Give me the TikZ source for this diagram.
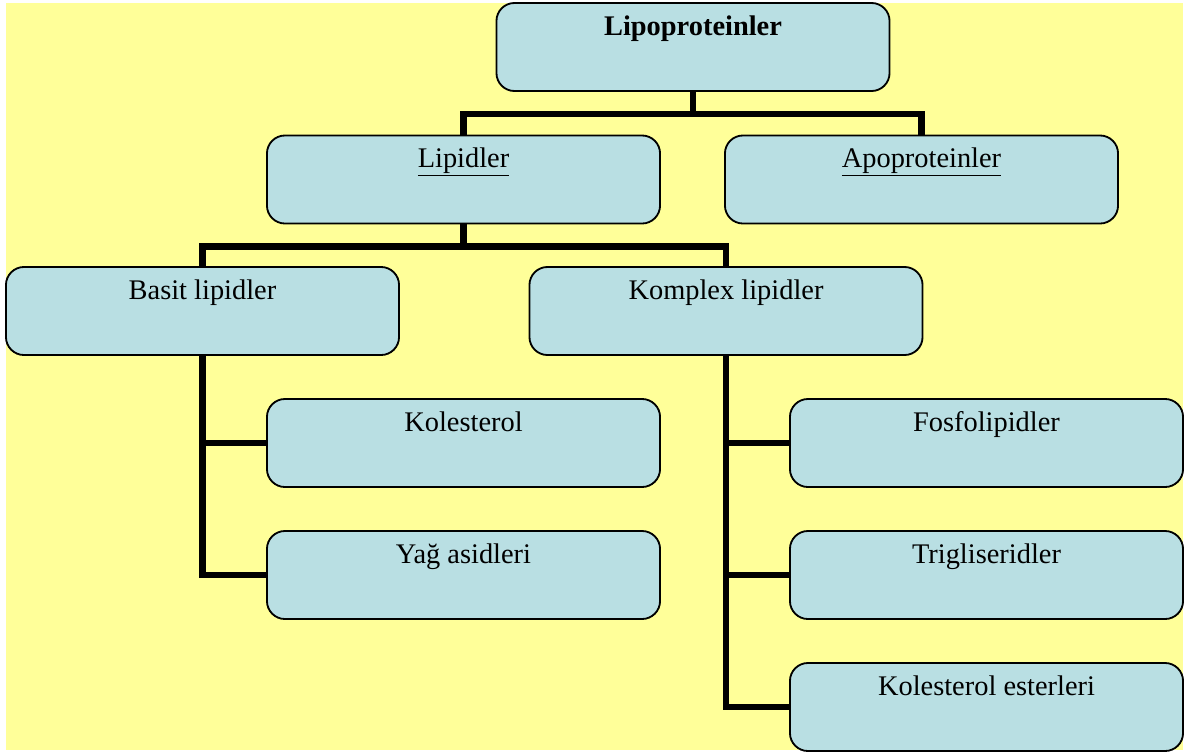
\documentclass[tikz,border=0pt]{standalone}
\usepackage{fontspec}
\setmainfont{Liberation Serif}
\usepackage{xcolor}
\usetikzlibrary{positioning}
\definecolor{bgyellow}{RGB}{255,255,153}
\definecolor{boxblue}{RGB}{185,223,227}

\begin{document}
\begin{tikzpicture}[x=0.025cm, y=-0.025cm, font=\fontsize{20.2}{24}\selectfont]
    \tikzstyle{box}=[rectangle, rounded corners=0.45cm, draw=black, line width=1.3pt, fill=boxblue,
        minimum width=9.825cm, inner xsep=0pt, inner ysep=0pt, text height=0.8cm, text depth=1.4cm]
    \tikzstyle{link}=[draw=black, line width=4.6pt]

    \useasboundingbox (0,0) rectangle (1196,751);
    \fill[bgyellow] (6,3) rectangle (1183,750);

    % top level
    \node[box] (lipo) at (693,47) {\textbf{Lipoproteinler}};

    \node[box] (lipid) at (463.5,179.5) {\underline{Lipidler}};
    \node[box] (apo) at (921.5,179.5) {\underline{Apoproteinler}};

    \node[box] (basit) at (202.5,311) {Basit lipidler};
    \node[box] (komplex) at (726,311) {Komplex lipidler};

    \node[box] (kol) at (463.5,443) {Kolesterol};
    \node[box] (yag) at (463.5,575) {Yağ asidleri};

    \node[box] (fosfo) at (986.5,443) {Fosfolipidler};
    \node[box] (trig) at (986.5,575) {Trigliseridler};
    \node[box] (ester) at (986.5,707) {Kolesterol esterleri};

    % connectors
    \draw[link] (lipo.south) -- ++(0,22) -| (lipid.north);
    \draw[link] (lipo.south) -- ++(0,22) -| (apo.north);
    \draw[link] (lipid.south) -- ++(0,22) -| (basit.north);
    \draw[link] (lipid.south) -- ++(0,22) -| (komplex.north);
    \draw[link] (basit.south) |- (kol.west);
    \draw[link] (basit.south) |- (yag.west);
    \draw[link] (komplex.south) |- (fosfo.west);
    \draw[link] (komplex.south) |- (trig.west);
    \draw[link] (komplex.south) |- (ester.west);
\end{tikzpicture}
\end{document}
